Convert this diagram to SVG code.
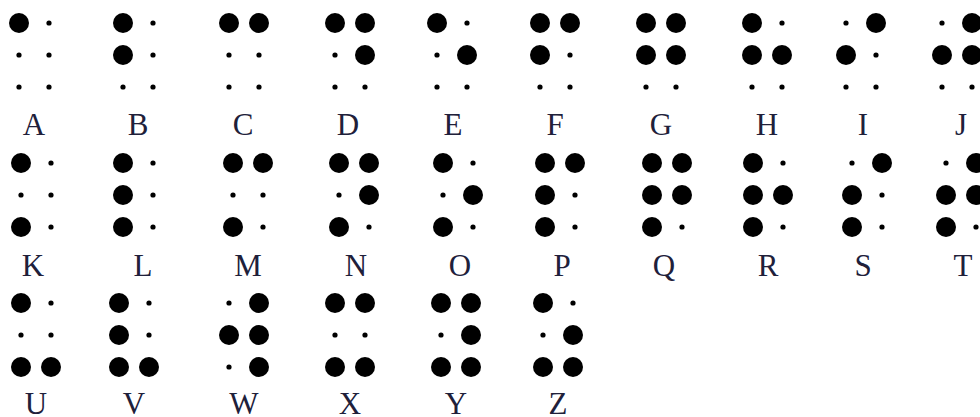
<svg xmlns="http://www.w3.org/2000/svg" xmlns:xlink="http://www.w3.org/1999/xlink" width="980" height="417" viewBox="0 0 980 417">
<defs>
<style>
.bg{fill:#ffffff}
.lbl{font-family:"Liberation Serif","DejaVu Serif",serif;font-size:31px;fill:#20203a;text-anchor:middle}
.d{fill:#000}
</style>
<circle id="B" class="d" r="10"/>
<circle id="s" class="d" r="2.6"/>
</defs>
<rect class="bg" x="0" y="0" width="980" height="417"/>
<g id="letters">
<g id="A" transform="translate(19,23)"><use href="#B" x="0" y="0"/><use href="#s" x="0" y="32"/><use href="#s" x="0" y="64"/><use href="#s" x="30" y="0"/><use href="#s" x="30" y="32"/><use href="#s" x="30" y="64"/><text class="lbl" x="15" y="112">A</text></g>
<g id="B-letter" transform="translate(123,23)"><use href="#B" x="0" y="0"/><use href="#B" x="0" y="32"/><use href="#s" x="0" y="64"/><use href="#s" x="30" y="0"/><use href="#s" x="30" y="32"/><use href="#s" x="30" y="64"/><text class="lbl" x="15" y="112">B</text></g>
<g id="C" transform="translate(229,23)"><use href="#B" x="0" y="0"/><use href="#s" x="0" y="32"/><use href="#s" x="0" y="64"/><use href="#B" x="30" y="0"/><use href="#s" x="30" y="32"/><use href="#s" x="30" y="64"/><text class="lbl" x="14" y="112">C</text></g>
<g id="D" transform="translate(335,23)"><use href="#B" x="0" y="0"/><use href="#s" x="0" y="32"/><use href="#s" x="0" y="64"/><use href="#B" x="30" y="0"/><use href="#B" x="30" y="32"/><use href="#s" x="30" y="64"/><text class="lbl" x="13" y="112">D</text></g>
<g id="E" transform="translate(437,23)"><use href="#B" x="0" y="0"/><use href="#s" x="0" y="32"/><use href="#s" x="0" y="64"/><use href="#s" x="30" y="0"/><use href="#B" x="30" y="32"/><use href="#s" x="30" y="64"/><text class="lbl" x="16" y="112">E</text></g>
<g id="F" transform="translate(540,23)"><use href="#B" x="0" y="0"/><use href="#B" x="0" y="32"/><use href="#s" x="0" y="64"/><use href="#B" x="30" y="0"/><use href="#s" x="30" y="32"/><use href="#s" x="30" y="64"/><text class="lbl" x="15" y="112">F</text></g>
<g id="G" transform="translate(646,23)"><use href="#B" x="0" y="0"/><use href="#B" x="0" y="32"/><use href="#s" x="0" y="64"/><use href="#B" x="30" y="0"/><use href="#B" x="30" y="32"/><use href="#s" x="30" y="64"/><text class="lbl" x="15" y="112">G</text></g>
<g id="H" transform="translate(752,23)"><use href="#B" x="0" y="0"/><use href="#B" x="0" y="32"/><use href="#s" x="0" y="64"/><use href="#s" x="30" y="0"/><use href="#B" x="30" y="32"/><use href="#s" x="30" y="64"/><text class="lbl" x="15" y="112">H</text></g>
<g id="I" transform="translate(846,23)"><use href="#s" x="0" y="0"/><use href="#B" x="0" y="32"/><use href="#s" x="0" y="64"/><use href="#B" x="30" y="0"/><use href="#s" x="30" y="32"/><use href="#s" x="30" y="64"/><text class="lbl" x="17" y="112">I</text></g>
<g id="J" transform="translate(942,23)"><use href="#s" x="0" y="0"/><use href="#B" x="0" y="32"/><use href="#s" x="0" y="64"/><use href="#B" x="30" y="0"/><use href="#B" x="30" y="32"/><use href="#s" x="30" y="64"/><text class="lbl" x="19" y="112">J</text></g>
<g id="K" transform="translate(21,163)"><use href="#B" x="0" y="0"/><use href="#s" x="0" y="32"/><use href="#B" x="0" y="64"/><use href="#s" x="30" y="0"/><use href="#s" x="30" y="32"/><use href="#s" x="30" y="64"/><text class="lbl" x="12" y="113">K</text></g>
<g id="L" transform="translate(123,163)"><use href="#B" x="0" y="0"/><use href="#B" x="0" y="32"/><use href="#B" x="0" y="64"/><use href="#s" x="30" y="0"/><use href="#s" x="30" y="32"/><use href="#s" x="30" y="64"/><text class="lbl" x="20" y="113">L</text></g>
<g id="M" transform="translate(233,163)"><use href="#B" x="0" y="0"/><use href="#s" x="0" y="32"/><use href="#B" x="0" y="64"/><use href="#B" x="30" y="0"/><use href="#s" x="30" y="32"/><use href="#s" x="30" y="64"/><text class="lbl" x="15" y="113">M</text></g>
<g id="N" transform="translate(339,163)"><use href="#B" x="0" y="0"/><use href="#s" x="0" y="32"/><use href="#B" x="0" y="64"/><use href="#B" x="30" y="0"/><use href="#B" x="30" y="32"/><use href="#s" x="30" y="64"/><text class="lbl" x="17" y="113">N</text></g>
<g id="O" transform="translate(443,163)"><use href="#B" x="0" y="0"/><use href="#s" x="0" y="32"/><use href="#B" x="0" y="64"/><use href="#s" x="30" y="0"/><use href="#B" x="30" y="32"/><use href="#s" x="30" y="64"/><text class="lbl" x="17" y="113">O</text></g>
<g id="P" transform="translate(545,163)"><use href="#B" x="0" y="0"/><use href="#B" x="0" y="32"/><use href="#B" x="0" y="64"/><use href="#B" x="30" y="0"/><use href="#s" x="30" y="32"/><use href="#s" x="30" y="64"/><text class="lbl" x="17" y="113">P</text></g>
<g id="Q" transform="translate(652,163)"><use href="#B" x="0" y="0"/><use href="#B" x="0" y="32"/><use href="#B" x="0" y="64"/><use href="#B" x="30" y="0"/><use href="#B" x="30" y="32"/><use href="#s" x="30" y="64"/><text class="lbl" x="12" y="113">Q</text></g>
<g id="R" transform="translate(753,163)"><use href="#B" x="0" y="0"/><use href="#B" x="0" y="32"/><use href="#B" x="0" y="64"/><use href="#s" x="30" y="0"/><use href="#B" x="30" y="32"/><use href="#s" x="30" y="64"/><text class="lbl" x="15" y="113">R</text></g>
<g id="S" transform="translate(852,163)"><use href="#s" x="0" y="0"/><use href="#B" x="0" y="32"/><use href="#B" x="0" y="64"/><use href="#B" x="30" y="0"/><use href="#s" x="30" y="32"/><use href="#s" x="30" y="64"/><text class="lbl" x="11" y="113">S</text></g>
<g id="T" transform="translate(946,163)"><use href="#s" x="0" y="0"/><use href="#B" x="0" y="32"/><use href="#B" x="0" y="64"/><use href="#B" x="30" y="0"/><use href="#B" x="30" y="32"/><use href="#s" x="30" y="64"/><text class="lbl" x="17" y="113">T</text></g>
<g id="U" transform="translate(21,303)"><use href="#B" x="0" y="0"/><use href="#s" x="0" y="32"/><use href="#B" x="0" y="64"/><use href="#s" x="30" y="0"/><use href="#s" x="30" y="32"/><use href="#B" x="30" y="64"/><text class="lbl" x="15" y="111">U</text></g>
<g id="V" transform="translate(119,303)"><use href="#B" x="0" y="0"/><use href="#B" x="0" y="32"/><use href="#B" x="0" y="64"/><use href="#s" x="30" y="0"/><use href="#s" x="30" y="32"/><use href="#B" x="30" y="64"/><text class="lbl" x="15" y="111">V</text></g>
<g id="W" transform="translate(229,303)"><use href="#s" x="0" y="0"/><use href="#B" x="0" y="32"/><use href="#s" x="0" y="64"/><use href="#B" x="30" y="0"/><use href="#B" x="30" y="32"/><use href="#B" x="30" y="64"/><text class="lbl" x="15" y="111">W</text></g>
<g id="X" transform="translate(335,303)"><use href="#B" x="0" y="0"/><use href="#s" x="0" y="32"/><use href="#B" x="0" y="64"/><use href="#B" x="30" y="0"/><use href="#s" x="30" y="32"/><use href="#B" x="30" y="64"/><text class="lbl" x="15" y="111">X</text></g>
<g id="Y" transform="translate(441,303)"><use href="#B" x="0" y="0"/><use href="#s" x="0" y="32"/><use href="#B" x="0" y="64"/><use href="#B" x="30" y="0"/><use href="#B" x="30" y="32"/><use href="#B" x="30" y="64"/><text class="lbl" x="15" y="111">Y</text></g>
<g id="Z" transform="translate(543,303)"><use href="#B" x="0" y="0"/><use href="#s" x="0" y="32"/><use href="#B" x="0" y="64"/><use href="#s" x="30" y="0"/><use href="#B" x="30" y="32"/><use href="#B" x="30" y="64"/><text class="lbl" x="15" y="111">Z</text></g>
</g>
<g id="connectors"/>
</svg>
